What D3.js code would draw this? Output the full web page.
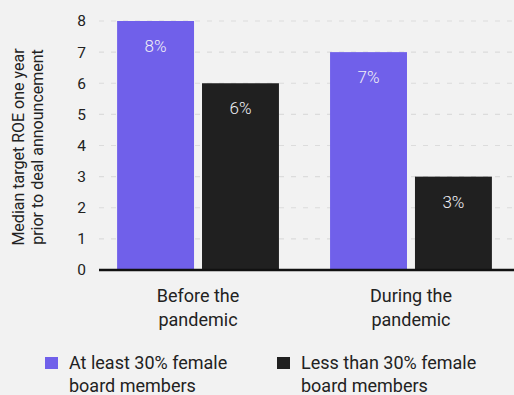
<!DOCTYPE html>
<html><head><meta charset="utf-8">
<script src="https://cdn.jsdelivr.net/npm/d3@7"></script>
<style>
html,body{margin:0;padding:0;background:#f2f2f2;}
svg{display:block;font-family:Roboto, "Noto Sans", sans-serif;}
</style></head>
<body><svg id="c" width="514" height="395"></svg>
<script>
const categories = [["Before the","pandemic"],["During the","pandemic"]];
const seriesNames = [["At least 30% female","board members"],["Less than 30% female","board members"]];
const seriesColors = ["#7060ea","#202020"];
const atLeast30 = [8, 7];
const lessThan30 = [6, 3];
const yTicks = [0,1,2,3,4,5,6,7,8];

(function(){
const svg = d3.select("#c");
const W = 514, H = 395;
svg.append("rect").attr("width",W).attr("height",H).attr("fill","#f2f2f2");

const mLeft = 99, mRight = 510, mTop = 21, mBottom = 270;
const y = d3.scaleLinear().domain([0,8]).range([mBottom, mTop]);
const x0 = d3.scaleBand().domain(d3.range(categories.length)).range([mLeft, mRight]).paddingInner(0.24).paddingOuter(0.085);
const x1 = d3.scaleBand().domain([0,1]).range([0, x0.bandwidth()]).paddingInner(0.094);

// grid
svg.append("g").selectAll("line").data(yTicks.filter(d=>d>0)).join("line")
  .attr("x1", mLeft).attr("x2", W).attr("y1", d=>y(d)).attr("y2", d=>y(d))
  .attr("stroke","#dcdcdc").attr("stroke-width",1.2).attr("stroke-dasharray","5,7");

// y axis labels
const yAxis = d3.axisLeft(y).tickValues(yTicks).tickSize(0).tickPadding(0).tickFormat(d3.format("d"));
const ya = svg.append("g").attr("transform",`translate(${mLeft-13},0)`).call(yAxis);
ya.select(".domain").remove();
ya.selectAll("text").attr("font-size",15.5).attr("fill","#222").attr("font-family","Roboto, sans-serif");

// bars
const data = categories.map((c,i)=>[atLeast30[i], lessThan30[i]]);
const grp = svg.append("g").selectAll("g").data(data).join("g")
  .attr("transform",(d,i)=>`translate(${x0(i)},0)`);
grp.selectAll("rect").data(d=>d).join("rect")
  .attr("x",(d,j)=>x1(j)).attr("width",x1.bandwidth())
  .attr("y",d=>y(d)).attr("height",d=>mBottom - y(d))
  .attr("fill",(d,j)=>seriesColors[j]);
grp.selectAll("text").data(d=>d).join("text")
  .attr("x",(d,j)=>x1(j)+x1.bandwidth()/2).attr("y",d=>y(d)+31)
  .attr("text-anchor","middle").attr("font-size",17).attr("font-weight",300).attr("fill","#f0f0f6")
  .text(d=>d+"%");

// x axis baseline
const xAxis = d3.axisBottom(x0).tickSize(0).tickFormat("");
const xa = svg.append("g").attr("transform",`translate(0,${mBottom})`).call(xAxis);
xa.select(".domain").attr("stroke","#111").attr("stroke-width",2.5).attr("d",`M${mLeft},0H${W}`);

// category labels
svg.append("g").selectAll("text").data(categories).join("text")
  .attr("x",(d,i)=>x0(i)+x0.bandwidth()/2).attr("y",302)
  .attr("text-anchor","middle").attr("font-size",18).attr("fill","#222")
  .each(function(d){
    const t=d3.select(this);
    d.forEach((line,k)=>t.append("tspan").attr("x",t.attr("x")).attr("dy",k?24:0).text(line));
  });

// y title
svg.append("text").attr("transform","translate(24,147) rotate(-90)")
  .attr("text-anchor","middle").attr("font-size",16).attr("fill","#222")
  .selectAll("tspan").data(["Median target ROE one year","prior to deal announcement"]).join("tspan")
  .attr("x",0).attr("dy",(d,i)=>i?19:0).text(d=>d);

// legend
const legX = [45, 277];
const leg = svg.append("g").selectAll("g").data(seriesNames).join("g")
  .attr("transform",(d,i)=>`translate(${legX[i]},357)`);
leg.append("rect").attr("width",13).attr("height",12).attr("fill",(d,i)=>seriesColors[i]);
leg.append("text").attr("x",24).attr("y",12).attr("font-size",18).attr("fill","#222")
  .each(function(d){
    const t=d3.select(this);
    d.forEach((line,k)=>t.append("tspan").attr("x",24).attr("dy",k?23:0).text(line));
  });
})();
</script></body></html>
